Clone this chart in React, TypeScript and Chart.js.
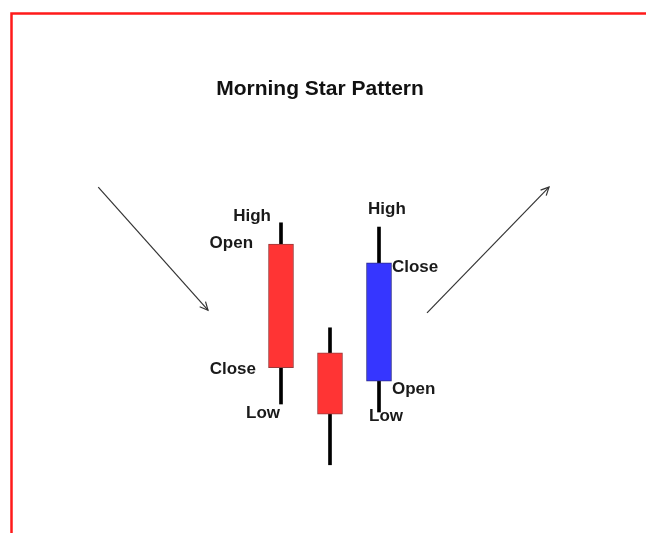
import React, { useEffect, useRef } from "react";
import { Chart, registerables } from "chart.js";

Chart.register(...registerables);

// ---- data ----
const days = [1, 2, 3];
const openValues = [54.2, 33.8, 28.5];
const closeValues = [31.0, 22.3, 50.7];
const highValues = [58.2, 38.5, 57.4];
const lowValues = [24.2, 12.8, 22.7];
const bodyColors = ["#ff3434", "#ff3434", "#3636ff"];
const bodyBorders = ["#9a3a3a", "#9a3a3a", "#2c2c8a"];

const downArrowX = [-2.73, -0.49];
const downArrowY = [64.9, 41.8];
const upArrowX = [3.98, 6.47];
const upArrowY = [41.3, 64.9];

const labelTexts = ["High", "Open", "Close", "Low", "High", "Close", "Open", "Low"];
const labelX = [0.796, 0.429, 0.49, 0.98, 2.776, 3.265, 3.265, 2.796];
const labelY = [59.5, 54.4, 30.8, 22.5, 60.8, 49.9, 27.0, 21.8];
const labelAlign = ["right", "right", "right", "right", "left", "left", "left", "left"];

const titleText = "Morning Star Pattern";

const W = 646;
const H = 533;

const framePlugin = {
  id: "frame",
  beforeDraw(chart: any) {
    const ctx = chart.ctx;
    ctx.save();
    ctx.fillStyle = "#ffffff";
    ctx.fillRect(0, 0, chart.width, chart.height);
    ctx.strokeStyle = "#ff1a1a";
    ctx.lineWidth = 2.5;
    ctx.beginPath();
    ctx.moveTo(11.5, chart.height);
    ctx.lineTo(11.5, 13.5);
    ctx.lineTo(chart.width, 13.5);
    ctx.stroke();
    ctx.restore();
  },
};

const annotPlugin = {
  id: "annot",
  afterDatasetsDraw(chart: any) {
    const ctx = chart.ctx;
    const xs = chart.scales.x;
    const ys = chart.scales.y;
    ctx.save();
    // title
    ctx.fillStyle = "#111111";
    ctx.font = "bold 21px 'Liberation Sans', Arial, sans-serif";
    ctx.textAlign = "center";
    ctx.textBaseline = "middle";
    ctx.fillText(titleText, 320, 89);
    // labels
    ctx.font = "bold 17px 'Liberation Sans', Arial, sans-serif";
    ctx.fillStyle = "#1a1a1a";
    labelTexts.forEach((t, i) => {
      ctx.textAlign = labelAlign[i] as CanvasTextAlign;
      ctx.fillText(t, xs.getPixelForValue(labelX[i]), ys.getPixelForValue(labelY[i]));
    });
    // arrow heads
    ctx.strokeStyle = "#333333";
    ctx.lineWidth = 1.2;
    const heads = [
      [downArrowX, downArrowY],
      [upArrowX, upArrowY],
    ];
    heads.forEach(([ax, ay]) => {
      const x0 = xs.getPixelForValue(ax[0]);
      const y0 = ys.getPixelForValue(ay[0]);
      const x1 = xs.getPixelForValue(ax[1]);
      const y1 = ys.getPixelForValue(ay[1]);
      const ang = Math.atan2(y1 - y0, x1 - x0);
      const len = 9;
      const spread = 0.45;
      ctx.beginPath();
      ctx.moveTo(x1 - len * Math.cos(ang - spread), y1 - len * Math.sin(ang - spread));
      ctx.lineTo(x1, y1);
      ctx.lineTo(x1 - len * Math.cos(ang + spread), y1 - len * Math.sin(ang + spread));
      ctx.stroke();
    });
    ctx.restore();
  },
};

export default function App() {
  const ref = useRef<HTMLCanvasElement>(null);
  useEffect(() => {
    if (!ref.current) return;
    const chart = new Chart(ref.current, {
      type: "bar",
      data: {
        datasets: [
          {
            type: "bar",
            label: "body",
            data: days.map((d, i) => ({ x: d, y: [openValues[i], closeValues[i]] })) as any,
            backgroundColor: bodyColors,
            borderColor: bodyBorders,
            borderWidth: 1,
            borderSkipped: false,
            barThickness: 25,
            grouped: false,
            order: 1,
          } as any,
          {
            type: "bar",
            label: "wick",
            data: days.map((d, i) => ({ x: d, y: [lowValues[i], highValues[i]] })) as any,
            backgroundColor: "#000000",
            borderWidth: 0,
            barThickness: 3,
            grouped: false,
            order: 2,
          } as any,
          {
            type: "line",
            label: "down",
            data: downArrowX.map((x, i) => ({ x, y: downArrowY[i] })),
            borderColor: "#333333",
            borderWidth: 1.2,
            pointRadius: 0,
            order: 3,
          } as any,
          {
            type: "line",
            label: "up",
            data: upArrowX.map((x, i) => ({ x, y: upArrowY[i] })),
            borderColor: "#333333",
            borderWidth: 1.2,
            pointRadius: 0,
            order: 3,
          } as any,
        ],
      },
      options: {
        animation: false,
        responsive: false,
        layout: { padding: 0 },
        plugins: { legend: { display: false }, tooltip: { enabled: false }, title: { display: false } },
        scales: {
          x: { type: "linear", offset: false, min: -232 / 49, max: (W - 232) / 49, display: false },
          y: { type: "linear", min: 0, max: 100, display: false },
        },
      },
      plugins: [framePlugin, annotPlugin],
    });
    return () => chart.destroy();
  }, []);
  return (
    <div style={{ position: "fixed", left: 0, top: 0, width: W, height: H }}>
      <canvas ref={ref} width={W} height={H} />
    </div>
  );
}
